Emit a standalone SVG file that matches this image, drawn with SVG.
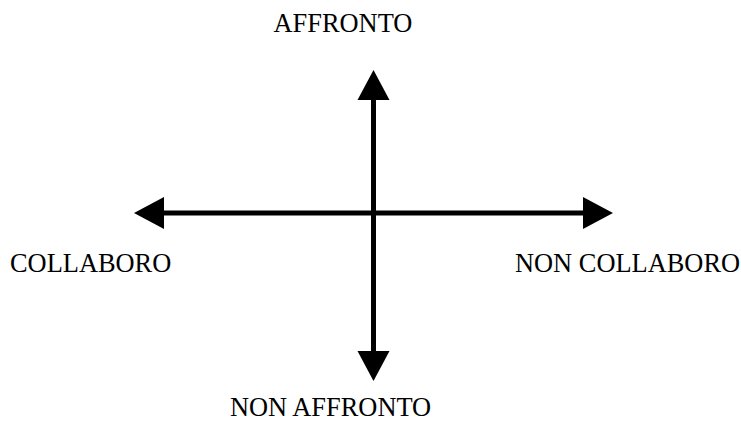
<svg xmlns="http://www.w3.org/2000/svg" width="741" height="422" viewBox="0 0 741 422">
<style>
.lbl{font-family:"Liberation Serif","Times New Roman",serif;font-size:26.4px;fill:#000}
.ax{stroke:#000;stroke-width:5;fill:none;marker-end:url(#ah)}
</style>
<defs>
<marker id="ah" markerUnits="userSpaceOnUse" markerWidth="31" markerHeight="32" refX="0" refY="16" orient="auto" overflow="visible">
<path d="M0,0 L30,16 L0,32 Z" fill="#000"/>
</marker>
</defs>
<rect width="741" height="422" fill="#fff"/>
<g id="connectors">
<line class="ax" x1="373.5" y1="213" x2="373.5" y2="100"/>
<line class="ax" x1="373.5" y1="213" x2="373.5" y2="351"/>
<line class="ax" x1="373.5" y1="213" x2="164" y2="213"/>
<line class="ax" x1="373.5" y1="213" x2="583" y2="213"/>
</g>
<g id="affronto"><text class="lbl" x="273.5" y="32">AFFRONTO</text></g>
<g id="collaboro"><text class="lbl" x="10" y="272">COLLABORO</text></g>
<g id="non-collaboro"><text class="lbl" x="515" y="272">NON COLLABORO</text></g>
<g id="non-affronto"><text class="lbl" x="230" y="416">NON AFFRONTO</text></g>
</svg>
